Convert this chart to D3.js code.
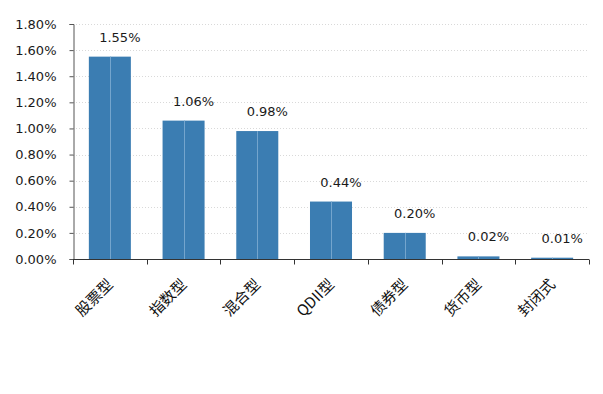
<!DOCTYPE html>
<html><head><meta charset="utf-8">
<script src="https://cdn.jsdelivr.net/npm/d3@7"></script>
<style>body{margin:0;background:#fff}svg{display:block}</style>
</head><body>
<script>
const categories = ["股票型","指数型","混合型","QDII型","债券型","货币型","封闭式"];
const values = [1.55, 1.06, 0.98, 0.44, 0.20, 0.02, 0.01];
const yTicks = [0,0.2,0.4,0.6,0.8,1.0,1.2,1.4,1.6,1.8];

const W=603,H=394;
const m={left:73,right:14,top:24,bottom:135};
const svg=d3.select("body").append("svg").attr("width",W).attr("height",H);
const x=d3.scaleBand().domain(categories).range([m.left,W-m.right]).paddingInner(0.43).paddingOuter(0.215);
const y=d3.scaleLinear().domain([0,1.8]).range([H-m.bottom,m.top]);
const font="DejaVu Sans, sans-serif";

// gridlines
svg.append("g").selectAll("line").data(yTicks.slice(1)).join("line")
 .attr("x1",m.left).attr("x2",W-m.right).attr("y1",d=>Math.round(y(d))+0.5).attr("y2",d=>Math.round(y(d))+0.5)
 .attr("stroke","#d9d9d9").attr("stroke-dasharray","1,2");

// bars
const bw=x.bandwidth();
svg.append("g").selectAll("rect").data(values).join("rect")
 .attr("x",(d,i)=>x(categories[i])).attr("width",bw)
 .attr("y",d=>y(d)).attr("height",d=>y(0)-y(d)).attr("fill","#3b7db2");
svg.append("g").selectAll("line").data(values).join("line")
 .attr("x1",(d,i)=>Math.round(x(categories[i])+bw/2)+0.5).attr("x2",(d,i)=>Math.round(x(categories[i])+bw/2)+0.5)
 .attr("y1",d=>y(d)).attr("y2",y(0)).attr("stroke","#74a5cd").attr("stroke-width",1);

// value labels
svg.append("g").selectAll("text").data(values).join("text")
 .attr("x",(d,i)=>x(categories[i])+bw/2+10).attr("y",d=>y(d)-15)
 .attr("text-anchor","middle").attr("font-family",font).attr("font-size",13).attr("fill","#1a1a1a")
 .text(d=>d.toFixed(2)+"%");

// y axis
const ya=svg.append("g").attr("transform",`translate(${m.left+0.5},0)`)
 .call(d3.axisLeft(y).tickValues(yTicks).tickSize(4).tickFormat(d=>d.toFixed(2)+"%").tickPadding(13));
ya.select(".domain").attr("stroke","#555");
ya.selectAll(".tick line").attr("stroke","#555");
ya.selectAll("text").attr("font-family",font).attr("font-size",13).attr("fill","#1a1a1a");

// x axis
const xg=svg.append("g").attr("transform",`translate(0,${y(0)+0.5})`);
xg.append("line").attr("x1",m.left).attr("x2",W-m.right).attr("stroke","#333");
const bounds=d3.range(categories.length+1).map(i=>m.left+i*(W-m.right-m.left)/categories.length);
xg.selectAll("line.tk").data(bounds).join("line").attr("class","tk")
 .attr("x1",d=>Math.round(d)+0.5).attr("x2",d=>Math.round(d)+0.5).attr("y1",0).attr("y2",5).attr("stroke","#333");
xg.selectAll("text").data(categories).join("text")
 .attr("transform",d=>`translate(${x(d)+bw/2+4},${26}) rotate(-45)`)
 .attr("text-anchor","end").attr("font-family","Noto Sans CJK SC, sans-serif").attr("font-size",15).attr("fill","#111")
 .text(d=>d);
</script>
</body></html>
